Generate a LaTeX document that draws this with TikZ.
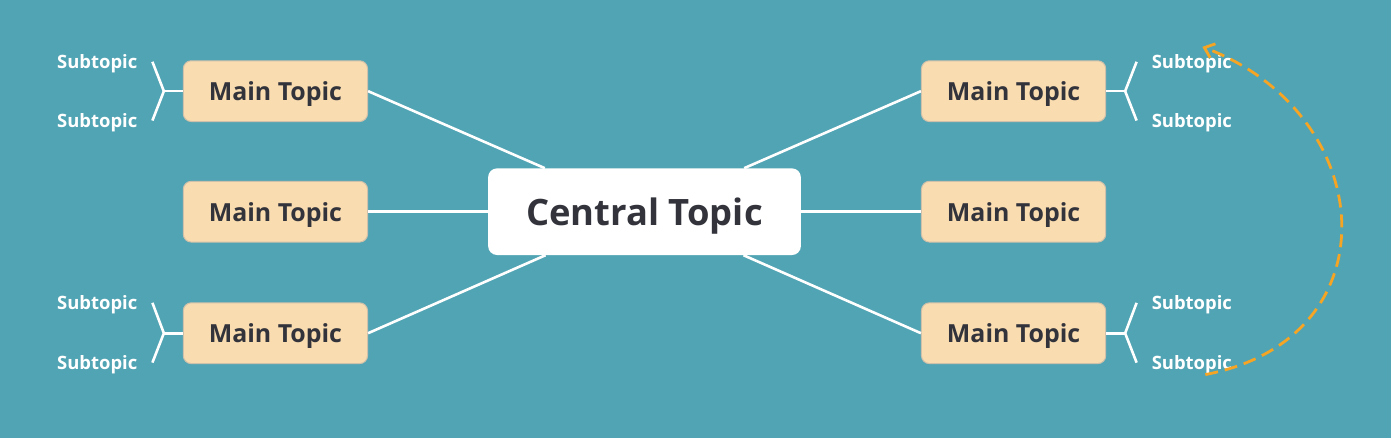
\documentclass[tikz,border=0pt]{standalone}
\usepackage{fontspec}
\setmainfont{Open Sans}
\usetikzlibrary{arrows.meta}
\definecolor{bgteal}{RGB}{81,164,180}
\definecolor{topicfill}{RGB}{249,220,176}
\definecolor{topicedge}{RGB}{206,192,170}
\definecolor{inkdark}{RGB}{50,51,59}
\definecolor{loopline}{RGB}{245,165,35}
\begin{document}
\begin{tikzpicture}[x=1pt,y=-1pt,
  central/.style={fill=white,rounded corners=9pt,minimum width=314pt,minimum height=87pt,text depth=0pt,
    text=inkdark,font=\fontsize{36.5}{40}\selectfont\bfseries},
  maintopic/.style={draw=topicedge,fill=topicfill,line width=1pt,rounded corners=8pt,text depth=0pt,
    minimum width=185pt,minimum height=61pt,text=inkdark,font=\fontsize{25}{28}\selectfont\bfseries},
  subtopic/.style={text=white,inner xsep=15pt,inner ysep=2pt,text depth=0pt,font=\fontsize{18.5}{21}\selectfont\bfseries},
  link/.style={white,line width=2.6pt},
  looparrow/.style={loopline,line width=2.8pt,dash pattern=on 13pt off 7pt,
    -{Straight Barb[length=9pt,width=15pt,line width=2.8pt]}}]

% background:
\fill[bgteal] (0,0) rectangle (1396,440);

% topics:
\node[central] (ct) at (647,212.5) {Central Topic};
\node[maintopic] (mtL1) at (276.5,91.5) {Main Topic};
\node[maintopic] (mtL2) at (276.5,212.5) {Main Topic};
\node[maintopic] (mtL3) at (276.5,334.5) {Main Topic};
\node[maintopic] (mtR1) at (1017.5,91.5) {Main Topic};
\node[maintopic] (mtR2) at (1017.5,212.5) {Main Topic};
\node[maintopic] (mtR3) at (1017.5,334.5) {Main Topic};

% subtopics:
\node[subtopic,anchor=east] (sL1a) at (153,62) {Subtopic};
\node[subtopic,anchor=east] (sL1b) at (153,121) {Subtopic};
\node[subtopic,anchor=east] (sL3a) at (153,304) {Subtopic};
\node[subtopic,anchor=east] (sL3b) at (153,364) {Subtopic};
\node[subtopic,anchor=west] (sR1a) at (1141,62) {Subtopic};
\node[subtopic,anchor=west] (sR1b) at (1141,121) {Subtopic};
\node[subtopic,anchor=west] (sR3a) at (1141,304) {Subtopic};
\node[subtopic,anchor=west] (sR3b) at (1141,364) {Subtopic};

% links to the central topic:
\draw[link] (mtL1.east) -- (ct);
\draw[link] (mtL2) -- (ct);
\draw[link] (mtL3.east) -- (ct);
\draw[link] (mtR1.west) -- (ct);
\draw[link] (mtR2) -- (ct);
\draw[link] (mtR3.west) -- (ct);

% brackets:
\draw[link] (mtL1.west) -- ++(-19,0) coordinate (jL1);
\draw[link] (sL1a.east) -- (jL1) -- (sL1b.east);
\draw[link] (mtL3.west) -- ++(-19,0) coordinate (jL3);
\draw[link] (sL3a.east) -- (jL3) -- (sL3b.east);
\draw[link] (mtR1.east) -- ++(19,0) coordinate (jR1);
\draw[link] (sR1a.west) -- (jR1) -- (sR1b.west);
\draw[link] (mtR3.east) -- ++(19,0) coordinate (jR3);
\draw[link] (sR3a.west) -- (jR3) -- (sR3b.west);

% loop arrow:
\coordinate (loopA) at (1210,376);
\coordinate (loopB) at (1207,47);
\draw[looparrow] (loopA) .. controls (1400,340) and (1385,115) .. (loopB);

\end{tikzpicture}
\end{document}
